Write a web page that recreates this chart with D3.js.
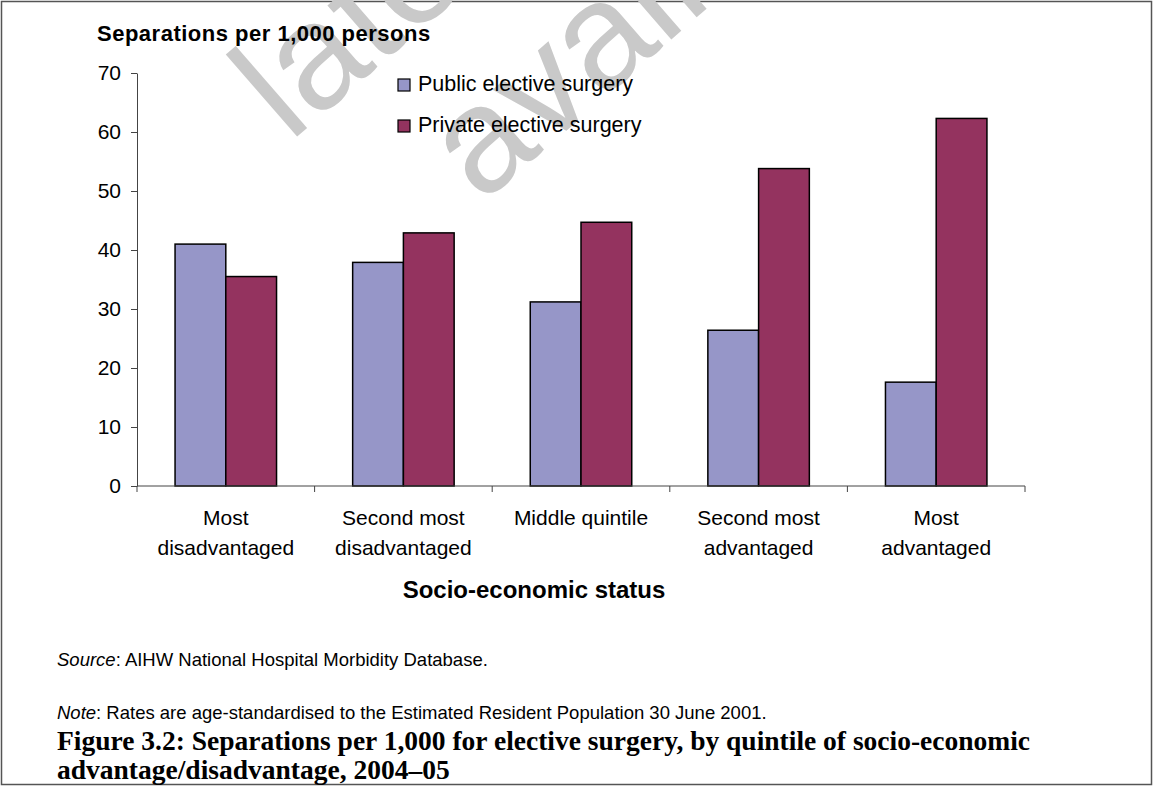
<!DOCTYPE html>
<html>
<head>
<meta charset="utf-8">
<script src="https://cdn.jsdelivr.net/npm/d3@7"></script>
<style>
    body { margin: 0; background: #fff; }
    svg text { font-family: "Liberation Sans", Arial, sans-serif; }
</style>
</head>
<body>
<svg id="chart" width="1154" height="787"></svg>
<script>
let categories = ["Most\ndisadvantaged", "Second most\ndisadvantaged", "Middle quintile",
    "Second most\nadvantaged", "Most\nadvantaged"];
let seriesNames = ["Public elective surgery", "Private elective surgery"];
let publicValues = [41.0, 37.9, 31.2, 26.4, 17.6];
let privateValues = [35.5, 42.9, 44.7, 53.8, 62.3];
let yTicks = [0, 10, 20, 30, 40, 50, 60, 70];
let seriesColors = ["#9696c8", "#94335f"];

let svg = d3.select("#chart"),
    margin = {top: 73, right: 129, bottom: 301, left: 137},
    width = +svg.attr("width") - margin.left - margin.right,
    height = +svg.attr("height") - margin.top - margin.bottom;

// outer frame
svg.append("rect")
    .attr("x", 1.5).attr("y", 1.5)
    .attr("width", 1150).attr("height", 783)
    .attr("fill", "#fff")
    .attr("stroke", "#555")
    .attr("stroke-width", 1.5);

// faint watermark behind everything
let wm = svg.append("g")
    .attr("transform", "translate(290,143) rotate(-41)")
    .attr("fill", "#c9c9c9")
    .attr("font-size", "150px");
wm.append("text").attr("x", 408).attr("y", 0).attr("text-anchor", "middle").text("later version");
wm.append("text").attr("x", 400).attr("y", 172).attr("text-anchor", "middle").text("available");

let g = svg.append("g").attr("transform", "translate(" + margin.left + "," + margin.top + ")");

let x = d3.scaleBand().domain(categories).range([0, width]).padding(0);
let xSeries = d3.scaleBand().domain(seriesNames).range([0, x.bandwidth()])
    .paddingInner(0).paddingOuter(0.75);
let y = d3.scaleLinear().domain([0, 70]).range([height, 0]);

let rows = categories.map(function (c, i) {
    return {category: c, values: [publicValues[i], privateValues[i]]};
});

// y axis
let yAxis = g.append("g")
    .call(d3.axisLeft(y).tickValues(yTicks).tickSize(6).tickSizeOuter(0).tickPadding(10));
yAxis.select(".domain").attr("stroke", "#444");
yAxis.selectAll(".tick line").attr("stroke", "#444");
yAxis.selectAll(".tick text")
    .attr("font-size", "21px")
    .attr("fill", "#000")
    .style("font-family", "Liberation Sans, Arial, sans-serif");

// bars
let groups = g.selectAll(".cat")
    .data(rows)
    .enter().append("g")
    .attr("class", "cat")
    .attr("transform", function (d) {
        return "translate(" + x(d.category) + ",0)";
    });

groups.selectAll("rect")
    .data(function (d) {
        return d.values.map(function (v, j) {
            return {series: seriesNames[j], value: v, idx: j};
        });
    })
    .enter().append("rect")
    .attr("x", function (d) { return xSeries(d.series); })
    .attr("y", function (d) { return y(d.value); })
    .attr("width", xSeries.bandwidth())
    .attr("height", function (d) { return height - y(d.value); })
    .attr("fill", function (d) { return seriesColors[d.idx]; })
    .attr("stroke", "#000")
    .attr("stroke-width", 1.5);

// x axis: line with ticks on the category boundaries
let xAxis = g.append("g").attr("transform", "translate(0," + height + ")");
xAxis.append("line")
    .attr("x1", 0).attr("x2", width)
    .attr("stroke", "#444");
let boundaries = categories.map(function (c) { return x(c); }).concat([width]);
xAxis.selectAll(".xtick")
    .data(boundaries)
    .enter().append("line")
    .attr("class", "xtick")
    .attr("x1", function (d) { return d; })
    .attr("x2", function (d) { return d; })
    .attr("y1", 0).attr("y2", 6)
    .attr("stroke", "#444");

let catLabels = xAxis.selectAll(".catlabel")
    .data(categories)
    .enter().append("text")
    .attr("class", "catlabel")
    .attr("text-anchor", "middle")
    .attr("font-size", "21px")
    .attr("fill", "#000");
catLabels.each(function (c) {
    let parts = c.split("\n");
    d3.select(this).selectAll("tspan")
        .data(parts)
        .enter().append("tspan")
        .attr("x", x(c) + x.bandwidth() / 2)
        .attr("y", function (p, k) { return 39 + k * 30; })
        .text(function (p) { return p; });
});

xAxis.append("text")
    .attr("x", 397)
    .attr("y", 112)
    .attr("text-anchor", "middle")
    .attr("font-size", "24px")
    .attr("font-weight", "bold")
    .text("Socio-economic status");

// y axis title
svg.append("text")
    .attr("x", 97).attr("y", 41)
    .attr("font-size", "22px")
    .attr("font-weight", "bold")
    .attr("letter-spacing", "0.5px")
    .text("Separations per 1,000 persons");

// legend
let legend = svg.selectAll(".legend")
    .data(seriesNames)
    .enter().append("g")
    .attr("class", "legend")
    .attr("transform", function (d, i) {
        return "translate(398," + (79 + i * 41) + ")";
    });
legend.append("rect")
    .attr("width", 12).attr("height", 12)
    .attr("fill", function (d, i) { return seriesColors[i]; })
    .attr("stroke", "#000")
    .attr("stroke-width", 1.2);
legend.append("text")
    .attr("x", 20).attr("y", 12)
    .attr("font-size", "21.5px")
    .text(function (d) { return d; });

// notes and caption
let source = svg.append("text").attr("x", 57).attr("y", 666).attr("font-size", "18.5px");
source.append("tspan").attr("font-style", "italic").text("Source");
source.append("tspan").text(": AIHW National Hospital Morbidity Database.");

let note = svg.append("text").attr("x", 57).attr("y", 719).attr("font-size", "18.5px");
note.append("tspan").attr("font-style", "italic").text("Note");
note.append("tspan").text(": Rates are age-standardised to the Estimated Resident Population 30 June 2001.");

let captionLines = ["Figure 3.2: Separations per 1,000 for elective surgery, by quintile of socio-economic",
    "advantage/disadvantage, 2004\u201305"];
svg.selectAll(".caption")
    .data(captionLines)
    .enter().append("text")
    .attr("class", "caption")
    .attr("x", 57)
    .attr("y", function (d, i) { return 750 + i * 29; })
    .attr("font-size", "27.5px")
    .attr("font-weight", "bold")
    .style("font-family", "Liberation Serif, serif")
    .text(function (d) { return d; });
</script>
</body>
</html>
